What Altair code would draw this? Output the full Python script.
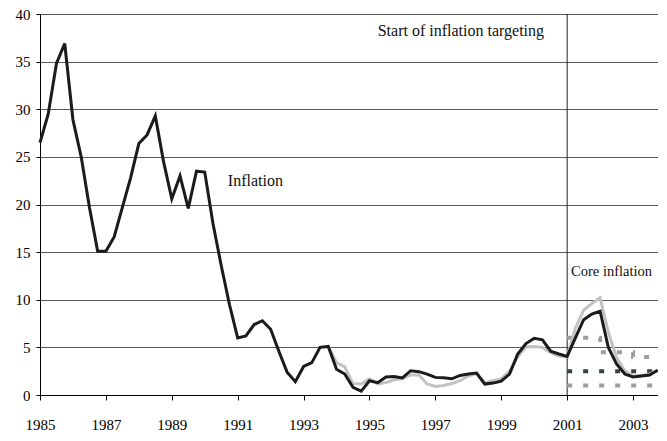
import altair as alt
import pandas as pd

# Quarterly inflation (12-month, %), 1985Q1 - 2003Q4
inflation = [
    26.5, 29.5, 34.8, 36.9,
    28.9, 25.0, 19.7, 15.1,
    15.1, 16.6, 19.7, 22.8,
    26.4, 27.3, 29.3, 24.5,
    20.6, 23.0, 19.6, 23.5,
    23.4, 18.0, 13.6, 9.5,
    6.0, 6.2, 7.4, 7.8,
    6.9, 4.6, 2.4, 1.4,
    3.0, 3.4, 5.0, 5.1,
    2.7, 2.2, 0.8, 0.4,
    1.5, 1.3, 1.9, 1.95,
    1.8, 2.55, 2.45, 2.2,
    1.85, 1.8, 1.7, 2.05,
    2.2, 2.3, 1.15, 1.25,
    1.45, 2.2, 4.3, 5.4,
    5.95, 5.8, 4.6, 4.3,
    4.05, 6.0, 7.9, 8.5,
    8.8, 5.0, 3.25, 2.2,
    1.9, 2.0, 2.1, 2.6,
]
inflation_start = 1985.0

# Core inflation, 1993Q4 - 2003Q4
core = [
    5.1,
    3.4, 2.95, 1.2, 1.15,
    1.7, 1.15, 1.3, 1.6,
    1.7, 2.1, 2.1, 1.15,
    0.9, 1.0, 1.2, 1.5,
    2.0, 2.25, 1.3, 1.5,
    1.7, 2.5, 4.0, 5.05,
    5.1, 5.0, 4.45, 4.1,
    4.0, 7.0, 8.9, 9.6,
    10.2, 6.6, 3.9, 2.55,
    2.0, 2.05, 2.2, 2.6,
]
core_start = 1993.75

# Inflation target and tolerance bounds
target_t = [2001.0, 2003.75]
target_v = [2.5, 2.5]
lower_t = [2001.0, 2003.75]
lower_v = [1.0, 1.0]
upper_t = [2001.0, 2002.0, 2003.0, 2003.75]
upper_v = [6.0, 4.5, 4.0, 4.0]

start_year = [2001.0]

labels_text = ["Start of inflation targeting", "Inflation"]
labels_t = [1995.25, 1990.7]
labels_v = [38.2, 22.5]
core_label = ["Core inflation"]
core_label_t = [2001.12]
core_label_v = [12.9]

x_ticks = list(range(1985, 2004, 2))
y_ticks = list(range(0, 41, 5))

FONT = "Liberation Serif"

infl_df = pd.DataFrame({"t": [inflation_start + 0.25 * i for i in range(len(inflation))],
                        "v": inflation})
core_df = pd.DataFrame({"t": [core_start + 0.25 * i for i in range(len(core))],
                        "v": core})
target_df = pd.DataFrame({"t": target_t, "v": target_v})
lower_df = pd.DataFrame({"t": lower_t, "v": lower_v})
upper_df = pd.DataFrame({"t": upper_t, "v": upper_v})
start_df = pd.DataFrame({"t": start_year})
lab_df = pd.DataFrame({"t": labels_t, "v": labels_v, "text": labels_text})
core_lab_df = pd.DataFrame({"t": core_label_t, "v": core_label_v, "text": core_label})

xs = alt.Scale(domain=[1985, 2004], nice=False, zero=False)
ys = alt.Scale(domain=[0, 40], nice=False)

x_axis = alt.Axis(values=x_ticks, format="d", grid=False, title=None,
                  labelFont=FONT, labelFontSize=15, labelColor="black",
                  domainColor="black", tickColor="black", tickSize=5,
                  labelPadding=17, labelFlush=False)
y_axis = alt.Axis(values=y_ticks, grid=True, gridColor="#5a5a5a", gridWidth=1,
                  title=None, labelFont=FONT, labelFontSize=15, labelColor="black",
                  domainColor="black", tickColor="black", tickSize=4,
                  labelPadding=6)

base_x = alt.X("t:Q", scale=xs, axis=x_axis)
base_y = alt.Y("v:Q", scale=ys, axis=y_axis)

grid_layer = alt.Chart(infl_df).mark_line(opacity=0).encode(x=base_x, y=base_y)

start_rule = alt.Chart(start_df).mark_rule(color="#222222", strokeWidth=1).encode(
    x=alt.X("t:Q", scale=xs))

def dashed(df, color, interp="linear"):
    return alt.Chart(df).mark_line(color=color, strokeWidth=4, strokeDash=[5, 11],
                                   strokeCap="butt", interpolate=interp).encode(
        x=alt.X("t:Q", scale=xs), y=alt.Y("v:Q", scale=ys))

upper_layer = dashed(upper_df, "#9a9ea2", "step-after")
lower_layer = dashed(lower_df, "#9a9ea2")
target_layer = dashed(target_df, "#384545")

core_layer = alt.Chart(core_df).mark_line(color="#c2c2c6", strokeWidth=3,
                                          strokeJoin="miter").encode(
    x=alt.X("t:Q", scale=xs), y=alt.Y("v:Q", scale=ys))
infl_layer = alt.Chart(infl_df).mark_line(color="#1c1a1a", strokeWidth=3,
                                          strokeJoin="miter").encode(
    x=alt.X("t:Q", scale=xs), y=alt.Y("v:Q", scale=ys))

text_layer = alt.Chart(lab_df).mark_text(font=FONT, fontSize=16, color="#111111",
                                         baseline="middle", align="left").encode(
    x=alt.X("t:Q", scale=xs), y=alt.Y("v:Q", scale=ys), text="text:N")
core_text_layer = alt.Chart(core_lab_df).mark_text(font=FONT, fontSize=14.5, color="#111111",
                                                   baseline="middle", align="left").encode(
    x=alt.X("t:Q", scale=xs), y=alt.Y("v:Q", scale=ys), text="text:N")

chart = alt.layer(grid_layer, start_rule, upper_layer, lower_layer, target_layer,
                  core_layer, infl_layer, text_layer, core_text_layer).properties(
    width=626, height=381,
    autosize=alt.AutoSizeParams(type="none"),
    padding={"left": 32, "top": 6, "right": -8, "bottom": 37},
).configure_view(stroke=None).configure(background="white")

chart.save("out.html", embed_options={"renderer": "svg", "actions": False})
